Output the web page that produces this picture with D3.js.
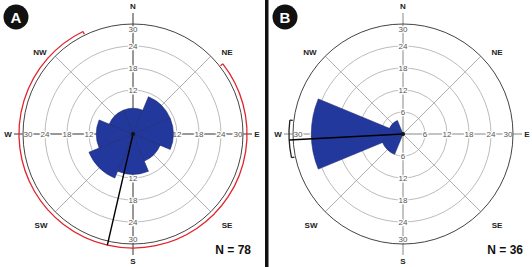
<!DOCTYPE html>
<html>
<head>
<meta charset="utf-8">
<script src="https://cdn.jsdelivr.net/npm/d3@7"></script>
<style>
  body { margin: 0; background: #fff; }
  svg { display: block; font-family: "Liberation Sans", Arial, sans-serif; }
</style>
</head>
<body>
<svg id="chart" width="532" height="267"></svg>
<script>
'use strict';

// bins of 45 degrees centred on the compass points
const directions = ["N", "NE", "E", "SE", "S", "SW", "W", "NW"]
const binCentres = [0, 45, 90, 135, 180, 225, 270, 315]
const countsA = [7, 11, 11, 8, 11, 13, 10, 7]
const countsB = [0, 0, 0, 0, 0, 6, 25, 4]
const ringTicks = [6, 12, 18, 24, 30]
const meanA = 193, ciA = [52, 334]
const meanB = 267, ciB = [258, 277]
const panelLabels = ["A", "B"]
const sampleSizes = [78, 36]

const rad = d => d * Math.PI / 180
const svg = d3.select("#chart")

const r = d3.scaleLinear().domain([0, 30]).range([0, 110])

const panels = [
    { cx: 133, cy: 134, counts: countsA, mean: meanA, ci: ciA, ciColor: "#e3232c", axisColor: "#333", label: panelLabels[0], n: sampleSizes[0], badgeX: 16, nX: 251 },
    { cx: 403, cy: 134, counts: countsB, mean: meanB, ci: ciB, ciColor: "#222", axisColor: "#888", label: panelLabels[1], n: sampleSizes[1], badgeX: 285, nX: 523 }
]

const petalArc = d3.arc()
    .innerRadius(0)
    .outerRadius(d => r(d.value))
    .startAngle(d => rad(d.angle - 22.5))
    .endAngle(d => rad(d.angle + 22.5))

const diagOffsets = { NW: [-93, -82], NE: [94, -82], SW: [-92, 91], SE: [94, 91] }

panels.forEach(p => {
    let g = svg.append("g").attr("transform", `translate(${p.cx}, ${p.cy})`)

    // rings
    g.selectAll("circle.ring")
        .data(ringTicks.slice(0, -1))
        .join("circle")
        .attr("r", d => r(d))
        .attr("fill", "none")
        .attr("stroke", "#aaa")
        .attr("stroke-width", 0.8)

    // diagonal spokes
    g.selectAll("line.diag")
        .data([45, 135, 225, 315])
        .join("line")
        .attr("x2", d => r(30) * Math.sin(rad(d)))
        .attr("y2", d => -r(30) * Math.cos(rad(d)))
        .attr("stroke", "#999")
        .attr("stroke-width", 0.8)

    // main axes
    g.append("line").attr("x1", 0).attr("x2", 0).attr("y1", -121).attr("y2", 121)
        .attr("stroke", p.axisColor).attr("stroke-width", 1)
    g.append("line").attr("y1", 0).attr("y2", 0).attr("x1", -119).attr("x2", 119)
        .attr("stroke", p.axisColor).attr("stroke-width", 1)

    // tick labels on the four axes
    let tickData = []
    ringTicks.forEach(v => [0, 90, 180, 270].forEach(a => tickData.push({ v, a })))
    g.selectAll("text.tick")
        .data(tickData)
        .join("text")
        .attr("x", d => (d.v === 30 ? r(30) - 5 : r(d.v)) * Math.sin(rad(d.a)))
        .attr("y", d => -(d.v === 30 ? r(30) - 5 : r(d.v)) * Math.cos(rad(d.a)))
        .attr("text-anchor", "middle")
        .attr("dominant-baseline", "central")
        .attr("font-size", 8)
        .attr("fill", "#555")
        .attr("stroke", "#fff")
        .attr("stroke-width", 2.5)
        .attr("paint-order", "stroke")
        .text(d => d.v)

    // petals
    g.selectAll("path.petal")
        .data(p.counts.map((v, i) => ({ value: v, angle: binCentres[i] })).filter(d => d.value > 0))
        .join("path")
        .attr("d", petalArc)
        .attr("fill", "#23389c")
        .attr("stroke", "#1a2670")
        .attr("stroke-width", 0.6)

    // outer circle
    g.append("circle").attr("r", r(30))
        .attr("fill", "none").attr("stroke", "#444").attr("stroke-width", 1)

    // confidence arc with end caps
    let ciR = 114
    let path = d3.path()
    path.arc(0, 0, ciR, rad(p.ci[0]) - Math.PI / 2, rad(p.ci[1]) - Math.PI / 2, false)
    g.append("path").attr("d", path.toString())
        .attr("fill", "none").attr("stroke", p.ciColor).attr("stroke-width", 1.3)
    g.selectAll("line.cap")
        .data(p.ci)
        .join("line")
        .attr("x1", d => ciR * Math.sin(rad(d)))
        .attr("y1", d => -ciR * Math.cos(rad(d)))
        .attr("x2", d => (ciR - 3) * Math.sin(rad(d)))
        .attr("y2", d => -(ciR - 3) * Math.cos(rad(d)))
        .attr("stroke", p.ciColor).attr("stroke-width", 1.3)

    // mean direction
    g.append("line")
        .attr("x2", ciR * Math.sin(rad(p.mean)))
        .attr("y2", -ciR * Math.cos(rad(p.mean)))
        .attr("stroke", "#000").attr("stroke-width", 1.4)
    g.append("circle").attr("r", 2).attr("fill", "#111")

    // compass labels
    let cardinal = [["N", 0, -128], ["S", 0, 127], ["W", -125, 0], ["E", 124, 0]]
    g.selectAll("text.dir")
        .data(cardinal.concat(Object.entries(diagOffsets).map(([k, v]) => [k, v[0], v[1]])))
        .join("text")
        .attr("x", d => d[1])
        .attr("y", d => d[2])
        .attr("text-anchor", "middle")
        .attr("dominant-baseline", "central")
        .attr("font-size", 8)
        .attr("font-weight", "bold")
        .attr("fill", "#222")
        .text(d => d[0])

    // sample size
    svg.append("text")
        .attr("x", p.nX).attr("y", 250)
        .attr("text-anchor", "end")
        .attr("dominant-baseline", "central")
        .attr("font-size", 12)
        .attr("font-weight", "bold")
        .attr("fill", "#111")
        .text(`N = ${p.n}`)

    // panel badge
    svg.append("circle").attr("cx", p.badgeX).attr("cy", 17).attr("r", 12.5).attr("fill", "#111")
    svg.append("text")
        .attr("x", p.badgeX).attr("y", 17.5)
        .attr("text-anchor", "middle")
        .attr("dominant-baseline", "central")
        .attr("font-size", 15)
        .attr("font-weight", "bold")
        .attr("fill", "#fff")
        .text(p.label)
})

// separator between panels
svg.append("rect").attr("x", 265).attr("y", 0).attr("width", 3.5).attr("height", 267).attr("fill", "#111")
</script>
</body>
</html>
